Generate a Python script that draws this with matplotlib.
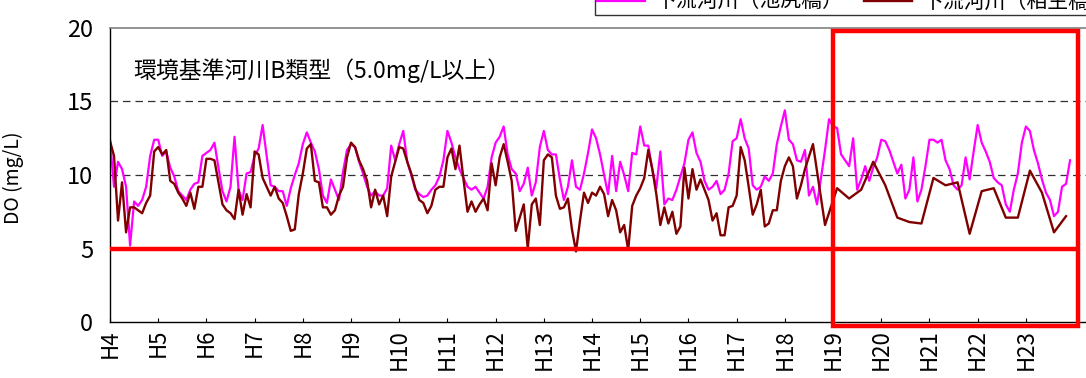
import numpy as np
import matplotlib
matplotlib.use("Agg")
import matplotlib.pyplot as plt
from matplotlib.patches import Rectangle

plt.rcParams['font.family'] = ['Noto Sans CJK JP', 'DejaVu Sans']

# years on the axis (ticks every 12 months, H4 April = month 0)
year_labels = ['H%d' % y for y in range(4, 24)]

# 池尻橋 : monthly DO (mg/L), H4.4 - H24.3
ikejiri = [
    12.4, 9.2, 10.9, 10.4, 9.2, 5.2, 8.2, 7.9, 8.3, 9.2, 11.3, 12.4,
    12.4, 11.3, 11.6, 10.5, 9.9, 8.9, 8.6, 8.3, 9.0, 9.4, 9.5, 11.3,
    11.5, 11.7, 12.2, 10.5, 8.9, 8.2, 9.2, 12.6, 9.0, 8.3, 10.1, 10.2,
    11.3, 11.8, 13.4, 11.3, 9.3, 9.2, 8.9, 8.9, 7.9, 9.1, 10.0, 10.8,
    12.1, 12.9, 12.2, 11.6, 10.4, 8.6, 8.1, 9.7, 9.0, 8.3, 10.2, 11.7,
    12.1, 11.9, 10.9, 10.1, 9.2, 8.6, 8.9, 8.6, 8.6, 9.1, 12.0, 11.0,
    12.1, 13.0, 10.9, 10.0, 9.0, 8.7, 8.5, 8.6, 9.0, 9.3, 9.9, 11.0,
    13.0, 12.2, 11.2, 10.4, 9.8, 9.2, 9.0, 9.2, 8.8, 8.4, 9.2,
    11.2, 12.2, 12.6, 13.3, 11.4, 10.4, 10.1, 8.9, 9.4, 10.5, 8.6, 9.5,
    11.9, 13.0, 11.7, 11.4, 11.4, 9.7, 8.3, 9.2, 11.0, 9.2, 9.0, 10.1,
    11.5, 13.1, 12.5, 11.4, 10.0, 8.7, 11.3, 8.9, 10.9, 10.0, 8.9, 11.5,
    11.4, 13.3, 12.0, 12.0, 10.4, 9.1, 11.6, 8.0, 8.4, 8.3, 9.0,
    9.9, 10.8, 12.4, 12.9, 11.5, 10.9, 9.6, 9.0, 9.2, 9.6, 8.7, 9.0,
    10.1, 12.3, 12.5, 13.8, 12.5, 11.8, 9.3, 9.0, 9.2, 9.9, 9.6, 10.1,
    12.1, 13.3, 14.4, 12.4, 12.1, 11.0, 10.9, 11.7, 8.6, 9.2, 8.0, 9.8,
    11.7, 13.8, 13.3, 13.2, 11.4, 11.0, 10.6, 12.5, 9.0, 9.7, 10.6,
    9.6, 10.5, 11.2, 12.4, 12.3, 11.7, 10.9, 10.1, 10.7, 8.4, 9.0, 11.2,
    8.2, 9.0, 10.6, 12.4, 12.4, 12.2, 12.4, 11.0, 10.4, 9.3, 9.0, 9.3,
    11.2, 9.7, 11.6, 13.4, 12.2, 11.6, 10.9, 9.8, 9.5, 9.3, 8.0, 7.5,
    9.0, 10.1, 12.2, 13.3, 13.0, 11.7, 10.8, 9.7, 8.8, 8.3, 7.2, 7.5,
    9.2, 9.4, 11.0,
]

# 相生橋 : monthly up to H18, then roughly quarterly
aioi_monthly = [
    12.3, 11.3, 6.9, 9.5, 6.1, 7.8, 7.8, 7.6, 7.4, 8.1, 8.6, 11.6,
    11.9, 11.4, 11.7, 9.6, 9.4, 8.8, 8.4, 7.9, 8.8, 7.7, 9.2, 9.2,
    11.1, 11.1, 11.0, 9.5, 8.0, 7.6, 7.4, 7.0, 9.0, 7.3, 8.7, 7.8,
    11.6, 11.4, 9.8, 9.2, 8.6, 9.2, 8.4, 8.1, 7.2, 6.2, 6.3, 8.7,
    10.1, 11.8, 12.1, 9.6, 9.5, 7.8, 7.8, 7.3, 7.6, 8.6, 9.2, 11.2,
    12.2, 11.9, 11.0, 10.4, 9.6, 7.8, 9.0, 8.0, 8.6, 7.2, 9.9, 10.9,
    11.9, 11.8, 10.9, 10.1, 9.1, 8.3, 8.1, 7.4, 7.9, 9.0, 9.2, 9.2,
    11.2, 11.8, 10.4, 12.0, 9.7, 7.5, 8.2, 7.5, 8.0, 8.4, 7.6,
    10.8, 9.3, 11.2, 12.1, 10.9, 9.6, 6.2, 7.1, 8.0, 5.0, 8.0, 8.4,
    6.6, 11.0, 11.4, 11.2, 8.6, 7.7, 7.8, 8.4, 6.3, 4.8, 6.9, 8.8,
    8.1, 8.8, 8.6, 9.2, 8.7, 7.2, 8.3, 7.6, 6.1, 6.6, 4.9, 7.9,
    8.6, 9.1, 9.8, 11.7, 10.4, 8.7, 6.6, 7.8, 6.7, 7.5, 6.0,
    6.5, 10.5, 8.4, 10.4, 9.0, 9.7, 9.0, 8.3, 6.9, 7.4, 5.9, 5.9,
    7.8, 7.9, 8.6, 11.9, 11.0, 9.2, 7.3, 8.0, 9.0, 6.5, 6.7, 7.6,
    7.6, 9.6, 10.6, 11.2, 10.6, 8.4, 9.3, 10.4,
]
aioi_late_month = [175, 178, 181, 184, 187, 190, 193, 196, 199, 202, 205,
                   208, 211, 214, 217, 220, 223, 226, 229, 232, 235, 238]
aioi_late = [12.1, 6.6, 9.1, 8.4, 9.0, 10.9, 9.3, 7.1, 6.8, 6.7, 9.8,
             9.3, 9.5, 6.0, 8.9, 9.1, 7.1, 7.1, 10.3, 8.8, 6.1, 7.2]

standard = 5.0

W, H = 1086, 378
fig = plt.figure(figsize=(W / 100, H / 100), dpi=100)
px_per_month = 4.017
xmax = 246
ax = fig.add_axes([110 / W, (H - 322) / H, xmax * px_per_month / W, 294 / H])

m_ike = np.arange(len(ikejiri))
m_aioi = np.concatenate([np.arange(len(aioi_monthly)), aioi_late_month])
v_aioi = np.concatenate([aioi_monthly, aioi_late])

ax.plot(m_ike, ikejiri, color='#FF00FF', lw=1.6, label='下流河川（池尻橋）')
ax.plot(m_aioi, v_aioi, color='#800000', lw=1.7, label='下流河川（相生橋）')

for yv in (10, 15):
    ax.axhline(yv, color='#303030', lw=0.9, dashes=(6, 4), zorder=0)

# environmental standard line and highlighted period
ax.hlines(standard, 0, 241, color='#FF0000', lw=3.2, zorder=5)
ax.add_patch(Rectangle((180, -0.25), 61, 20.05, fill=False, ec='#FF0000',
                       lw=3.2, clip_on=False, zorder=6))

ax.text(5.7, 17.1, '環境基準河川B類型（5.0mg/L以上）', fontsize=16.5, va='center')

ax.set_xlim(0, xmax)
ax.set_ylim(0, 20)
ax.set_xticks(np.arange(0, 12 * len(year_labels), 12))
ax.set_xticklabels(year_labels, rotation=90, fontsize=16)
ax.set_yticks([0, 5, 10, 15, 20])
ax.tick_params(axis='x', direction='in', length=3, pad=5)
ax.tick_params(axis='y', length=0, pad=12, labelsize=17)

ax.spines['right'].set_visible(False)
ax.spines['top'].set_color('#808080')
ax.spines['top'].set_linewidth(1.2)
ax.spines['left'].set_linewidth(1.0)
ax.spines['bottom'].set_linewidth(1.0)

ax.set_ylabel('DO (mg/L)', fontsize=14)
ax.yaxis.set_label_coords(-0.087, 0.49)

fig.legend(loc='lower left', bbox_to_anchor=(595 / W, (H - 15) / H), ncol=2,
           fontsize=15, frameon=True, fancybox=False, edgecolor='black',
           handlelength=2.3, handletextpad=0.5, columnspacing=1.0,
           borderpad=0.1, borderaxespad=0)

fig.savefig('out.png', dpi=100)
